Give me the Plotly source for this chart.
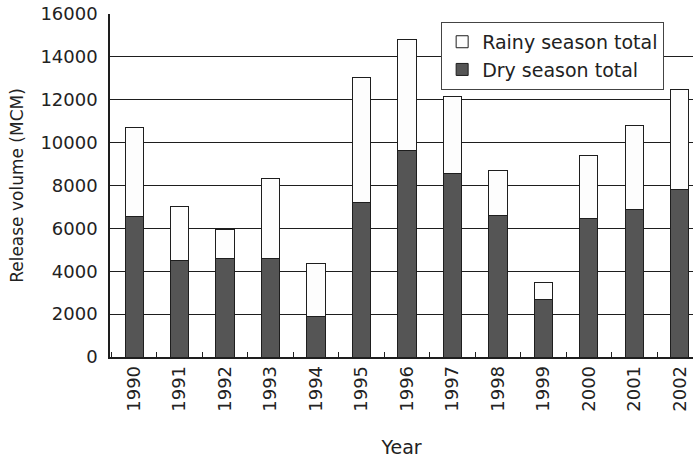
"""Stacked bar chart: annual release volume, dry vs rainy season."""
import plotly.graph_objects as go

FONT = "DejaVu Sans"
DARK = "#555555"
LINE = "#1e1e1e"

years = ["1990", "1991", "1992", "1993", "1994", "1995", "1996",
         "1997", "1998", "1999", "2000", "2001", "2002"]
dry_total = [6550, 4500, 4580, 4580, 1900, 7220, 9620,
             8550, 6610, 2690, 6480, 6860, 7820]
season_total = [10700, 7000, 5950, 8330, 4350, 13040, 14820,
                12160, 8680, 3480, 9390, 10820, 12480]
rainy_total = [t - d for t, d in zip(season_total, dry_total)]

fig = go.Figure()

fig.add_trace(go.Bar(
    x=years, y=dry_total, name="Dry season total",
    width=0.4,
    marker=dict(color=DARK, line=dict(color=LINE, width=1)),
))
fig.add_trace(go.Bar(
    x=years, y=rainy_total, name="Rainy season total",
    width=0.4,
    marker=dict(color="#fdfdfd", line=dict(color=LINE, width=1)),
))

fig.update_xaxes(
    type="category",
    range=[-0.53, 12.29],
    automargin=False,
    tickangle=-90,
    tickson="boundaries",
    ticks="inside",
    ticklen=5,
    tickcolor=LINE,
    showgrid=False,
    showline=True,
    linecolor=LINE,
    linewidth=1.5,
    tickfont=dict(family=FONT, size=18, color="#222"),
    title=dict(text="Year", font=dict(family=FONT, size=19, color="#222"), standoff=30),
)
fig.update_yaxes(
    range=[0, 16000],
    dtick=2000,
    tickformat="d",
    automargin=False,
    ticklabelstandoff=7,
    showgrid=True,
    gridcolor=LINE,
    gridwidth=1.3,
    zeroline=False,
    showline=True,
    linecolor=LINE,
    linewidth=1.5,
    tickfont=dict(family=FONT, size=18, color="#222"),
    title=dict(text="Release volume (MCM)", font=dict(family=FONT, size=17, color="#222"),
               standoff=12),
)

fig.update_layout(
    barmode="stack",
    width=693,
    height=460,
    margin=dict(l=110, r=0, t=14, b=103),
    paper_bgcolor="white",
    plot_bgcolor="white",
    font=dict(family=FONT, color="#222"),
    legend=dict(
        x=0.568, y=0.977, xanchor="left", yanchor="top",
        traceorder="reversed",
        bgcolor="white",
        bordercolor="#444",
        borderwidth=1,
        font=dict(family=FONT, size=19, color="#222"),
        itemwidth=30,
        tracegroupgap=0,
    ),
)

# drop the page's default body margin so the figure sits at the window's corner
fig.write_html("out.html", config={"displayModeBar": False},
               post_script="document.body.style.margin='0';")
